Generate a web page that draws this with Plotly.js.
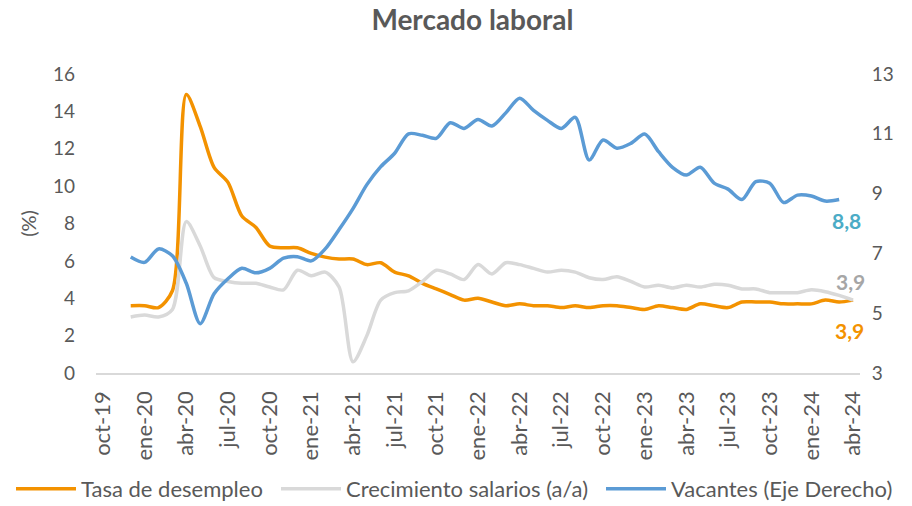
<!DOCTYPE html>
<html>
<head>
<meta charset="utf-8">
<script src="https://cdn.plot.ly/plotly-3.0.1.min.js"></script>
<style>
html,body{margin:0;padding:0;background:#fff;}
#chart{width:912px;height:506px;}
</style>
</head>
<body>
<div id="chart"></div>
<script>
// Month categories (oct-19 .. abr-24)
var months = ["oct-19","nov-19","dic-19","ene-20","feb-20","mar-20","abr-20","may-20","jun-20","jul-20","ago-20","sep-20",
  "oct-20","nov-20","dic-20","ene-21","feb-21","mar-21","abr-21","may-21","jun-21","jul-21","ago-21","sep-21",
  "oct-21","nov-21","dic-21","ene-22","feb-22","mar-22","abr-22","may-22","jun-22","jul-22","ago-22","sep-22",
  "oct-22","nov-22","dic-22","ene-23","feb-23","mar-23","abr-23","may-23","jun-23","jul-23","ago-23","sep-23",
  "oct-23","nov-23","dic-23","ene-24","feb-24","mar-24","abr-24"];
var tickLabels = ["oct-19","ene-20","abr-20","jul-20","oct-20","ene-21","abr-21","jul-21","oct-21","ene-22",
  "abr-22","jul-22","oct-22","ene-23","abr-23","jul-23","oct-23","ene-24","abr-24"];

// Series (dic-19 onward)
var desempleo = [3.6,3.6,3.5,4.4,14.9,13.2,11.0,10.2,8.4,7.8,6.8,6.7,6.7,6.4,6.2,6.1,6.1,5.8,5.9,5.4,5.2,4.8,
  4.5,4.2,3.9,4.0,3.8,3.6,3.7,3.6,3.6,3.5,3.6,3.5,3.6,3.6,3.5,3.4,3.6,3.5,3.4,3.7,3.6,3.5,3.8,3.8,
  3.8,3.7,3.7,3.7,3.9,3.8,3.9];
var salarios = [3.0,3.1,3.0,3.4,8.1,6.8,5.1,4.9,4.8,4.8,4.6,4.45,5.5,5.2,5.4,4.6,0.6,2.0,3.9,4.3,4.4,4.9,
  5.5,5.3,5.0,5.8,5.3,5.9,5.8,5.6,5.4,5.5,5.4,5.1,5.0,5.15,4.9,4.6,4.7,4.55,4.7,4.6,4.75,4.7,4.5,4.5,
  4.3,4.3,4.3,4.45,4.35,4.15,3.9];
var vacantes = [6.88,6.7,7.15,6.92,6.0,4.65,5.65,6.15,6.5,6.35,6.5,6.84,6.89,6.75,7.15,7.8,8.5,9.3,9.9,10.35,
  11.0,10.95,10.85,11.37,11.18,11.48,11.26,11.7,12.19,11.78,11.45,11.18,11.55,10.12,10.79,10.52,10.68,
  10.99,10.4,9.88,9.62,9.88,9.35,9.15,8.8,9.4,9.35,8.7,8.95,8.92,8.75,8.8];

var xDes = months.slice(2, 2 + desempleo.length);
var xSal = months.slice(2, 2 + salarios.length);
var xVac = months.slice(2, 2 + vacantes.length);

var txt = '#595959';
var font = 'Lato, "Open Sans", sans-serif';

var traces = [
  {x: xDes, y: desempleo, name: 'Tasa de desempleo', type: 'scatter', mode: 'lines', legend: 'legend',
   line: {color: '#F39200', width: 3.5, shape: 'spline', smoothing: 0.8}, yaxis: 'y'},
  {x: xSal, y: salarios, name: 'Crecimiento salarios (a/a)', type: 'scatter', mode: 'lines', legend: 'legend2',
   line: {color: '#D9D9D9', width: 3.5, shape: 'spline', smoothing: 0.8}, yaxis: 'y'},
  {x: xVac, y: vacantes, name: 'Vacantes (Eje Derecho)', type: 'scatter', mode: 'lines', legend: 'legend3',
   line: {color: '#5B9BD5', width: 3.5, shape: 'spline', smoothing: 0.8}, yaxis: 'y2'}
];

var lastD = desempleo[desempleo.length - 1];
var lastS = salarios[salarios.length - 1];
var lastV = vacantes[vacantes.length - 1];
function fmt(v){ return v.toFixed(1).replace('.', ','); }

function leg(px){
  return {orientation: 'h', xref: 'container', x: px / 912, xanchor: 'left', yref: 'container', y: 1 - 489 / 506,
          yanchor: 'middle', itemwidth: 60, bgcolor: 'rgba(0,0,0,0)', font: {size: 22, color: txt}};
}

var layout = {
  width: 912, height: 506,
  margin: {l: 96, r: 52, t: 74, b: 133, autoexpand: false},
  paper_bgcolor: '#fff', plot_bgcolor: '#fff',
  font: {family: font, color: txt, size: 20},
  title: {text: '<b>Mercado laboral</b>', font: {family: font, size: 28, color: txt},
          x: 0.518, xref: 'container', y: 0.96, yref: 'container', yanchor: 'middle'},
  xaxis: {type: 'category', categoryorder: 'array', categoryarray: months, automargin: false,
          range: [-0.5, months.length - 0.5], tickmode: 'array', tickvals: tickLabels, ticktext: tickLabels,
          tickangle: -90, showgrid: false, zeroline: false, showline: true, linecolor: '#D9D9D9', linewidth: 1.5,
          ticks: '', ticklabelstandoff: 8, tickfont: {size: 22, color: txt}},
  yaxis: {range: [0, 16], dtick: 2, tick0: 0, showgrid: false, zeroline: false, showline: false, ticks: '', automargin: false,
          ticklabelstandoff: 20, tickfont: {size: 19, color: txt},
          title: {text: '(%)', font: {size: 20, color: txt}, standoff: 10}},
  yaxis2: {range: [3, 13], dtick: 2, tick0: 3, overlaying: 'y', side: 'right', showgrid: false, zeroline: false, automargin: false,
           showline: false, ticks: 'outside', ticklen: 7, tickcolor: 'rgba(0,0,0,0)', tickfont: {size: 19, color: txt}},
  legend: leg(11),
  legend2: leg(276),
  legend3: leg(601),
  showlegend: true,
  annotations: [
    {x: months[2 + vacantes.length - 1], y: lastV, xref: 'x', yref: 'y2', text: '<b>' + fmt(lastV) + '</b>',
     showarrow: false, font: {size: 21, color: '#4BACC6'}, xshift: 7, yshift: -21},
    {x: months[2 + salarios.length - 1], y: lastS, xref: 'x', yref: 'y', text: '<b>' + fmt(lastS) + '</b>',
     showarrow: false, font: {size: 21, color: '#A6A6A6'}, xshift: -3, yshift: 19},
    {x: months[2 + desempleo.length - 1], y: lastD, xref: 'x', yref: 'y', text: '<b>' + fmt(lastD) + '</b>',
     showarrow: false, font: {size: 21, color: '#F39200'}, xshift: -4, yshift: -30}
  ]
};

Plotly.newPlot('chart', traces, layout, {displayModeBar: false, staticPlot: true});
</script>
</body>
</html>
